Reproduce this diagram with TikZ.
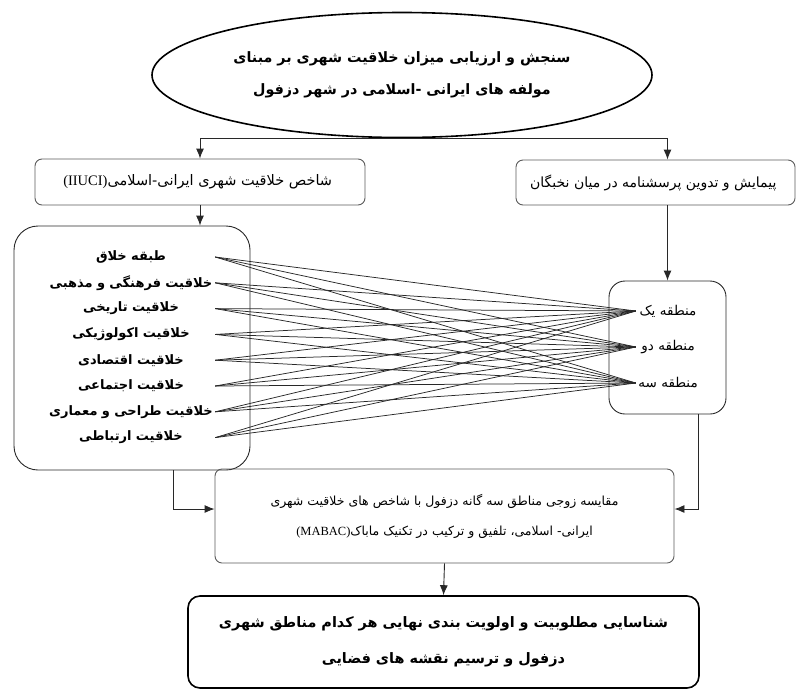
\documentclass[tikz,border=0pt]{standalone}
\usepackage{fontspec}
\setmainfont{Liberation Serif}
\newfontfamily\arabicfont[Script=Arabic]{DejaVu Sans}
\TeXXeTstate=1
\usepackage{tikz}
\usetikzlibrary{arrows,arrows.meta,shapes,positioning}
\usepackage{xcolor}
\definecolor{dzgray}{RGB}{90,90,90}
\definecolor{dzdark}{RGB}{40,40,40}
\newcommand{\fa}[1]{\beginR #1\endR}
\tikzstyle{arrow} = [line width=0.9pt,-{Latex[length=10pt,width=8pt]},color=dzdark]
\tikzstyle{link} = [line width=0.75pt,color=dzdark]
\tikzstyle{titlenode} = [ellipse, draw, line width=1.6pt, minimum width=500pt, minimum height=125pt, align=center, font=\arabicfont\bfseries\fontsize{14.3}{32}\selectfont]
\tikzstyle{stepbox} = [rectangle, rounded corners=7pt, draw=dzgray, line width=0.9pt, align=center, font=\arabicfont\fontsize{12.5}{30}\selectfont]
\tikzstyle{listbox} = [rectangle, rounded corners=24pt, draw=dzdark, line width=0.9pt]
\tikzstyle{itemnode} = [text width=164pt, inner sep=2pt, align=center, font=\arabicfont\bfseries\fontsize{13}{15}\selectfont]
\tikzstyle{zonenode} = [text width=60pt, inner sep=2pt, align=center, font=\arabicfont\fontsize{13.5}{15}\selectfont]
\tikzstyle{resultbox} = [rectangle, rounded corners=12pt, draw, line width=1.6pt, align=center, font=\arabicfont\bfseries\fontsize{14.4}{36}\selectfont]

\begin{document}
\begin{tikzpicture}[x=1pt,y=-1pt]
\useasboundingbox (0,0) rectangle (799,691);

% Title
\node[titlenode] (title) at (402,75) {
\fa{سنجش و ارزیابی میزان خلاقیت شهری بر مبنای}\\
\fa{مولفه های ایرانی -اسلامی در شهر دزفول}
};

% Index
\node[stepbox, minimum width=330pt, minimum height=46pt, font=\arabicfont\fontsize{14.5}{16}\selectfont] (index) at (200,182) {
\fa{شاخص خلاقیت شهری ایرانی-اسلامی\beginL{\rmfamily (IIUCI)}\endL}
};

% Survey
\node[stepbox, minimum width=279pt, minimum height=45pt, font=\arabicfont\fontsize{14}{16}\selectfont] (survey) at (655.5,182.5) {
\fa{پیمایش و تدوین پرسشنامه در میان نخبگان}
};

% Criteria
\node[listbox, minimum width=236pt, minimum height=244pt] (list) at (132,348) {};
\foreach \name [count=\i] in {طبقه خلاق,خلاقیت فرهنگی و مذهبی,خلاقیت تاریخی,خلاقیت اکولوژیکی,خلاقیت اقتصادی,خلاقیت اجتماعی,خلاقیت طراحی و معماری,خلاقیت ارتباطی}
  \node[itemnode] (item\i) at (131,{257+25.8*(\i-1)}) {\fa{\name}};

% Zones
\node[listbox, rounded corners=16pt, minimum width=117pt, minimum height=133pt] (regions) at (667.5,347.5) {};
\foreach \name [count=\j] in {یک,دو,سه}
  \node[zonenode] (zone\j) at (668,{311+36*(\j-1)}) {\fa{منطقه \name}};

% Links
\foreach \i in {1,...,8}
  \foreach \j in {1,2,3}
    \draw[link] (item\i.east) -- (zone\j.west);

% Comparison
\node[stepbox, minimum width=459pt, minimum height=94pt] (compare) at (444.5,516) {
\fa{مقایسه زوجی مناطق سه گانه دزفول با شاخص های خلاقیت شهری}\\
\fa{ایرانی- اسلامی، تلفیق و ترکیب در تکنیک ماباک\beginL{\rmfamily (MABAC)}\endL}
};

% Result
\node[resultbox, minimum width=511pt, minimum height=92pt] (result) at (443.5,642) {
\fa{شناسایی مطلوبیت و اولویت بندی نهایی هر کدام مناطق شهری}\\
\fa{دزفول و ترسیم نقشه های فضایی}
};

\draw[arrow] (title.south) -| (index.north);
\draw[arrow] (title.south) -| (regions.north |- survey.north);
\draw[arrow] (index.south) -- (index.south |- list.north);
\draw[arrow] (survey.south -| regions.north) -- (regions.north);
\draw[arrow] ([xshift=41pt]list.south) |- ([yshift=7pt]compare.west);
\draw[arrow] ([xshift=30.5pt]regions.south) |- ([yshift=7pt]compare.east);
\draw[arrow] (compare.south) -- (result.north);
\end{tikzpicture}
\end{document}
